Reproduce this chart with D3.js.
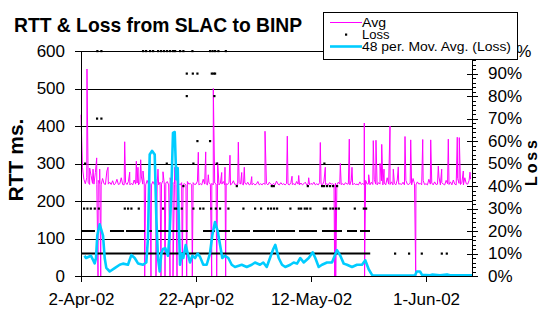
<!DOCTYPE html>
<meta charset="utf-8">
<script src="https://d3js.org/d3.v7.min.js"></script>
<style>
  body { margin: 0; background: #fff; }
  svg text { font-family: "Liberation Sans", Arial, sans-serif; }
</style>
<div id="chart"></div>
<script>

// day offsets are days after 2-Apr-02
var startDate = Date.UTC(2002, 3, 2);
var endDay = 68;
var dateTicks = [0, 20, 40, 60];
var rttTicks = [0, 100, 200, 300, 400, 500, 600];
var lossTicks = [0, .1, .2, .3, .4, .5, .6, .7, .8, .9, 1];

// RTT (ms), one value every 6 hours
var rttBase = [
  430,290,258,246,262,250,244,268,247,245,276,244,255,247,243,260,
  246,244,280,245,250,244,254,243,247,258,244,246,262,244,243,249,
  244,252,243,247,243,256,245,248,243,250,264,245,247,243,255,244,
  247,243,252,244,258,246,243,250,245,255,243,248,252,243,262,245,
  249,244,254,243,246,243,249,244,246,243,252,245,247,243,249,244,
  245,253,243,246,243,258,245,246,243,250,244,247,243,248,245,246,
  243,248,245,252,243,246,244,250,243,246,254,244,245,243,249,245,
  246,243,248,244,250,243,245,243,247,243,245,252,243,246,243,248,
  244,247,243,250,245,243,247,243,253,245,243,249,244,246,243,247,
  245,243,249,244,246,243,252,245,243,248,243,246,250,243,245,243,
  247,244,250,243,246,243,249,245,243,253,244,246,243,249,245,246,
  243,248,243,250,245,244,246,243,249,245,246,243,254,243,247,244,
  245,243,251,244,247,243,255,245,246,243,250,244,258,245,243,249,
  245,254,243,248,243,262,245,244,251,243,247,243,256,245,246,244,
  250,243,255,245,244,248,243,260,246,243,251,245,247,243,255,244,
  246,243,258,245,248,243,251,244,245,264,243,249,245,243,255,246,
  244,251,243,256,245,243,260,247,244,250,243,262,246,245,255,258
];

// RTT spikes [day, ms]
var rttSpikes = [
  [1.04,552],[1.51,288],[2.09,285],[2.73,315],[3.25,285],[4.70,290],[7.60,358],
  [8.47,277],[9.62,306],[9.91,290],[10.38,310],[10.78,280],[13.39,285],[14.26,278],
  [16.30,290],[20.40,330],[21.69,331],[22.14,270],[23.01,500],[23.77,303],[24.47,276],
  [25.04,290],[25.91,322],[27.36,357],[27.95,276],[28.40,290],[29.69,265],[32.00,386],
  [35.88,373],[36.70,266],[37.86,268],[39.60,262],[41.62,356],[42.49,290],[45.10,300],
  [46.66,365],[47.13,290],[49.27,408],[50.03,270],[50.83,361],[51.30,362],[52.00,300],
  [52.30,351],[52.70,285],[53.74,400],[54.31,285],[55.18,291],[56.35,372],[57.34,363],
  [59.43,364],[60.82,363],[62.14,293],[62.73,285],[63.88,365],[65.44,370],[65.79,369],
  [66.49,280],[67.65,277]
];

// hours with no reply (RTT drops to 0)
var rttZeroDays = [2.96,3.43,11.08,12.17,13.04,13.91,14.61,15.48,16.00,16.70,17.62,
  18.38,19.36,22.73,23.60,25.16,44.12,44.30,49.32,58.21];

// loss samples [day, fraction]
var lossDots = [
  [0.52,.3],[1.10,.3],[1.69,.3],[2.38,.3],[3.08,.3],[7.60,.3],[8.17,.3],[8.75,.3],[10.03,.3],
  [14.26,.3],[16.30,.3],[16.64,.3],[17.51,.3],[19.53,.3],[20.70,.3],[21.27,.3],[22.61,.3],
  [23.43,.3],[24.17,.3],[25.62,.3],[28.23,.3],[30.26,.3],[31.30,.3],[32.52,.3],[33.04,.3],
  [33.57,.3],[34.09,.3],[36.40,.3],[37.86,.3],[38.26,.3],[38.90,.3],[39.30,.3],[39.88,.3],
  [42.21,.3],[42.61,.3],[43.36,.3],[43.83,.3],[44.35,.3],[44.82,.3],[47.60,.3],[49.17,.3],
  [49.57,.3],
  [17.79,.4],[27.08,.4],[33.17,.4],[33.51,.4],[39.43,.4],[41.91,.4],[42.26,.4],[42.78,.4],
  [43.30,.4],[43.83,.4],[44.52,.4],
  [0.70,.5],[14.90,.5],[19.53,.5],[23.60,.5],[42.31,.5],
  [20.23,.6],[22.43,.6],
  [2.78,.7],[3.53,.7],
  [18.38,.8],[23.18,.8],
  [18.38,.9],[19.43,.9],[20.23,.9],[22.73,.9],[23.04,.9],[23.30,.9],
  [2.83,1],[3.53,1],[10.78,1],[11.30,1],[12.00,1],[12.52,1],[13.39,1],[13.91,1],[14.43,1],
  [14.96,1],[15.48,1],[16.00,1],[16.35,1],[17.22,1],[17.79,1],[19.36,1],[22.43,1],[22.87,1],
  [23.30,1],[23.88,1],[25.17,1],[44.17,1],[49.27,1],
  [54.61,.1],[57.04,.1],[59.25,.1],[62.73,.1],[63.60,.1]
];

// stretches of consecutive loss samples at one level [fromDay, toDay, fraction]
var lossRuns = [
  [0.1,50.3,.1],
  [0.0,2.43,.2],[5.04,7.48,.2],[7.83,11.13,.2],[11.65,12.35,.2],[13.39,16.87,.2],
  [17.22,18.61,.2],[21.22,23.30,.2],[23.83,25.91,.2],[26.26,29.39,.2],[29.91,33.74,.2],
  [33.91,37.22,.2],[37.91,41.04,.2],[41.91,45.39,.2],[46.26,48.00,.2],[48.52,50.26,.2]
];

// 48 per. moving average of loss
var movAvgDays = [0.61,0.87,1.74,2.38,2.61,2.83,3.25,3.83,4.12,4.40,4.99,5.86,6.73,7.30,8.17,
  8.75,9.34,9.91,10.78,11.36,11.65,11.95,12.35,12.82,13.10,13.39,13.69,13.97,14.26,14.66,
  15.13,15.43,15.70,16.00,16.30,16.57,16.82,17.04,17.22,17.51,17.79,18.21,18.56,18.96,19.36,
  19.83,20.30,20.70,21.27,21.86,22.43,22.83,23.30,23.77,24.17,24.57,25.04,25.62,26.21,26.78,
  27.95,28.82,29.69,30.26,31.13,31.70,32.30,32.87,33.44,33.79,34.38,34.96,35.53,36.40,36.99,
  37.57,38.14,38.73,39.60,40.30,40.75,41.34,41.91,42.78,43.65,44.52,45.10,45.69,46.26,47.13,
  48.00,48.87,49.44,50.03,50.61,50.83,58.09,58.38,58.96,59.30,60.70,61.04,62.43,63.65,64.17,68];
var movAvgPct = [9,8,9,5.6,8,18,23,18,8,3.6,2,3.5,5,5.5,5,
  9.3,8,5.6,5,6,17,54,55.6,54,26,8,2,10,12,12.4,
  9,19.7,37,63.6,64,43,48,21,5,10,8,13.8,10,6,9,
  8,10,8.5,5,5,10,18,24,20,14,8,9,8,5,4,
  5,4,5,6,5,6,4,8,12,13.8,8,5,4,5,6,
  5.5,8,6,8,10.5,8,4,5,6,6,11.5,9,5.5,5,4,
  5,5,7,3,0.5,0.2,0.2,2,2,0.5,0.3,0.6,0.3,0.7,0.3,0.3];

var W = 539, H = 310;
var plotLeft = 81, plotRight = 472, plotTop = 51, plotBottom = 276;

var svg = d3.select("#chart").append("svg")
    .attr("width", W)
    .attr("height", H);

function dayToDate(d) { return new Date(startDate + d * 864e5); }

var x = d3.scaleUtc()
    .domain([dayToDate(0), dayToDate(endDay)])
    .range([plotLeft, plotRight]);
var y = d3.scaleLinear().domain([0, 600]).range([plotBottom, plotTop]);
var yLoss = d3.scaleLinear().domain([0, 1]).range([plotBottom, plotTop]);

// gridlines
svg.append("g")
    .attr("transform", "translate(" + plotLeft + ",0)")
    .call(d3.axisLeft(y).tickValues(rttTicks).tickSize(-(plotRight - plotLeft)).tickFormat(""))
    .call(function(g) {
      g.select(".domain").remove();
      g.selectAll("line").attr("stroke", "#000").attr("shape-rendering", "crispEdges");
    });

// RTT series
var rttPoints = rttBase.map(function(v, i) { return [i / 4, v]; })
    .concat(rttSpikes)
    .concat(rttZeroDays.map(function(d) { return [d, 0]; }))
    .sort(function(a, b) { return a[0] - b[0]; });

svg.append("path")
    .datum(rttPoints)
    .attr("fill", "none")
    .attr("stroke", "#ff00ff")
    .attr("stroke-width", 1)
    .attr("d", d3.line()
      .x(function(d) { return x(dayToDate(d[0])); })
      .y(function(d) { return y(d[1]); }));

// loss
svg.append("g").selectAll("rect")
  .data(lossRuns)
  .join("rect")
    .attr("x", function(d) { return x(dayToDate(d[0])); })
    .attr("width", function(d) { return x(dayToDate(d[1])) - x(dayToDate(d[0])); })
    .attr("y", function(d) { return yLoss(d[2]) - 1; })
    .attr("height", 2)
    .attr("fill", "#000");

svg.append("g").selectAll("rect")
  .data(lossDots)
  .join("rect")
    .attr("x", function(d) { return x(dayToDate(d[0])) - 1; })
    .attr("y", function(d) { return yLoss(d[1]) - 1; })
    .attr("width", 2.2)
    .attr("height", 2.2)
    .attr("fill", "#000");

// moving average
svg.append("path")
    .datum(movAvgDays.map(function(d, i) { return [d, movAvgPct[i] / 100]; }))
    .attr("fill", "none")
    .attr("stroke", "#00ccff")
    .attr("stroke-width", 2.6)
    .attr("stroke-linejoin", "round")
    .attr("d", d3.line()
      .x(function(d) { return x(dayToDate(d[0])); })
      .y(function(d) { return yLoss(d[1]); }));

// axes
var axisFont = function(g) {
  g.selectAll("text").attr("font-size", 17).attr("fill", "#000");
  g.selectAll("line, path").attr("stroke", "#000").attr("shape-rendering", "crispEdges");
};

svg.append("g")
    .attr("transform", "translate(" + plotLeft + ",0)")
    .call(d3.axisLeft(y).tickValues(rttTicks).tickSize(6).tickPadding(10).tickSizeOuter(0))
    .call(axisFont);

svg.append("g")
    .attr("transform", "translate(0," + plotBottom + ")")
    .call(d3.axisBottom(x)
      .tickValues(dateTicks.map(dayToDate))
      .tickFormat(d3.utcFormat("%-d-%b-%y"))
      .tickSize(6).tickPadding(11).tickSizeOuter(0))
    .call(axisFont);

// right axis: minor ticks, crossing major ticks, labels
svg.append("g")
    .attr("transform", "translate(" + plotRight + ",0)")
    .call(d3.axisRight(yLoss).tickValues(d3.range(0, 51).map(function(i) { return i / 50; }))
      .tickSize(4).tickFormat("").tickSizeOuter(0))
    .call(axisFont);
svg.append("g")
    .attr("transform", "translate(" + plotRight + ",0)")
    .call(d3.axisRight(yLoss).tickValues(lossTicks).tickSize(-5).tickFormat("").tickSizeOuter(0))
    .call(function(g) { g.select(".domain").remove(); })
    .call(axisFont);
svg.append("g")
    .attr("transform", "translate(" + plotRight + ",0)")
    .call(d3.axisRight(yLoss).tickValues(lossTicks).tickSize(6).tickPadding(10)
      .tickFormat(d3.format(".0%")).tickSizeOuter(0))
    .call(axisFont);

// titles
svg.append("text")
    .attr("x", 14).attr("y", 31.5)
    .attr("font-size", 19.3).attr("font-weight", "bold")
    .text("RTT & Loss from SLAC to BINP");

svg.append("text")
    .attr("transform", "translate(23,160) rotate(-90)")
    .attr("text-anchor", "middle")
    .attr("font-size", 21).attr("font-weight", "bold")
    .text("RTT ms.");

svg.append("text")
    .attr("transform", "translate(537,163) rotate(-90)")
    .attr("text-anchor", "middle")
    .attr("font-size", 16).attr("font-weight", "bold")
    .attr("textLength", 46).attr("lengthAdjust", "spacing")
    .text("Loss");

// legend
var legend = svg.append("g");
legend.append("rect")
    .attr("x", 323.5).attr("y", 12.5)
    .attr("width", 194).attr("height", 46.5)
    .attr("fill", "#fff").attr("stroke", "#000")
    .attr("shape-rendering", "crispEdges");

var legendItems = ["Avg", "Loss", "48 per. Mov. Avg. (Loss)"];
var legendWidths = [24, 27.5, 149];
legendItems.forEach(function(name, i) {
  var ly = 22.5 + i * 12;
  if (i === 1) {
    legend.append("rect").attr("x", 345).attr("y", ly - 1).attr("width", 2.2).attr("height", 2.2).attr("fill", "#000");
  } else {
    legend.append("line")
        .attr("x1", 330).attr("x2", 362).attr("y1", ly).attr("y2", ly)
        .attr("stroke", i === 0 ? "#ff00ff" : "#00ccff")
        .attr("stroke-width", i === 0 ? 1 : 2.6);
  }
  legend.append("text")
      .attr("x", 362).attr("y", ly + 4)
      .attr("font-size", 12)
      .attr("textLength", legendWidths[i])
      .attr("lengthAdjust", "spacingAndGlyphs")
      .text(name);
});

</script>
</body>
</html>
